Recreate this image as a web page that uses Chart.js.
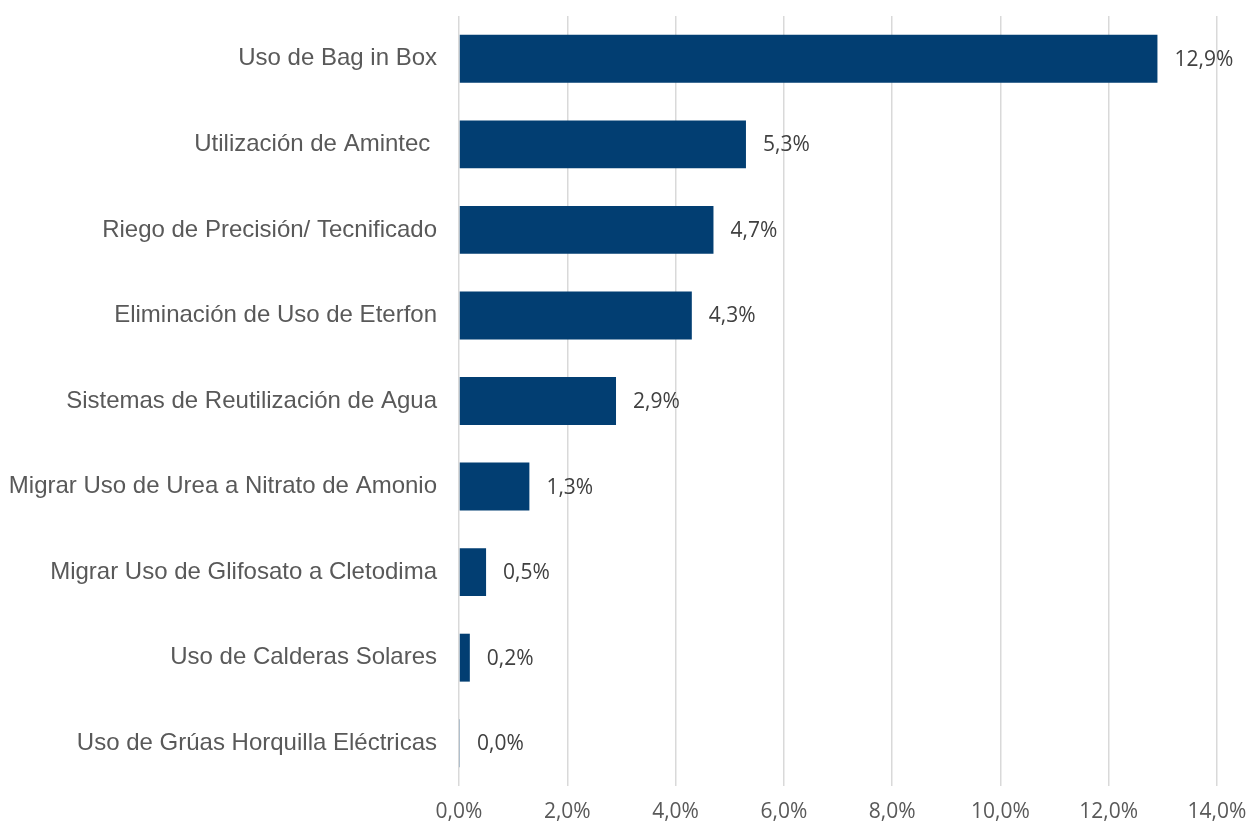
<!DOCTYPE html>
<html>
<head>
<meta charset="utf-8">
<script src="https://cdn.jsdelivr.net/npm/chart.js@4/dist/chart.umd.min.js"></script>
<style>
  html, body { margin: 0; padding: 0; background: #ffffff; }
  #wrap { width: 1251px; height: 827px; }
</style>
</head>
<body>
<div id="wrap"><canvas id="chart" width="1251" height="827"></canvas></div>
<script>
// Categories (top to bottom) and their percentages
const categories = [
  'Uso de Bag in Box',
  'Utilización de Amintec ',
  'Riego de Precisión/ Tecnificado',
  'Eliminación de Uso de Eterfon',
  'Sistemas de Reutilización de Agua',
  'Migrar Uso de Urea a Nitrato de Amonio',
  'Migrar Uso de Glifosato a Cletodima',
  'Uso de Calderas Solares',
  'Uso de Grúas Horquilla Eléctricas'
];
const values = [12.9, 5.3, 4.7, 4.3, 2.9, 1.3, 0.5, 0.2, 0.0];

// Horizontal axis range
const axisMin = 0;
const axisMax = 14;
const axisStep = 2;

const fmt = v => v.toFixed(1).replace('.', ',') + '%';

// Writes the percentage just past the end of each bar
const valueLabels = {
  id: 'valueLabels',
  afterDatasetsDraw(chart) {
    const ctx = chart.ctx;
    const meta = chart.getDatasetMeta(0);
    ctx.save();
    ctx.font = '21px "Open Sans", sans-serif';
    ctx.fillStyle = '#404040';
    ctx.textAlign = 'left';
    ctx.textBaseline = 'middle';
    meta.data.forEach((bar, i) => {
      ctx.fillText(fmt(values[i]), bar.x + 17, bar.y + 1);
    });
    ctx.restore();
  }
};

new Chart(document.getElementById('chart'), {
  type: 'bar',
  data: {
    labels: categories,
    datasets: [{
      data: values,
      backgroundColor: '#023e72',
      borderWidth: 0,
      categoryPercentage: 0.56,
      barPercentage: 1,
      minBarLength: 1
    }]
  },
  options: {
    indexAxis: 'y',
    responsive: false,
    animation: false,
    layout: { padding: { top: 16, right: 34, bottom: 0, left: 0 } },
    plugins: {
      legend: { display: false },
      tooltip: { enabled: false }
    },
    scales: {
      x: {
        min: axisMin,
        max: axisMax,
        ticks: {
          stepSize: axisStep,
          color: '#595959',
          font: { family: '"Open Sans", sans-serif', size: 21 },
          padding: 13,
          callback: v => fmt(v)
        },
        grid: { color: '#d9d9d9', lineWidth: 1.5, drawTicks: false },
        border: { display: false },
        afterFit: s => {
          s.height = 41;
          s.paddingLeft = 0;
          s.paddingRight = 0;
        }
      },
      y: {
        ticks: {
          color: '#595959',
          font: { family: '"Liberation Sans", Arial, sans-serif', size: 24 },
          padding: 22,
          autoSkip: false
        },
        grid: { display: false, drawTicks: false },
        border: { display: false },
        afterFit: s => {
          s.width = 459;
          s.paddingTop = 0;
          s.paddingBottom = 0;
        }
      }
    }
  },
  plugins: [valueLabels]
});
</script>
</body>
</html>
